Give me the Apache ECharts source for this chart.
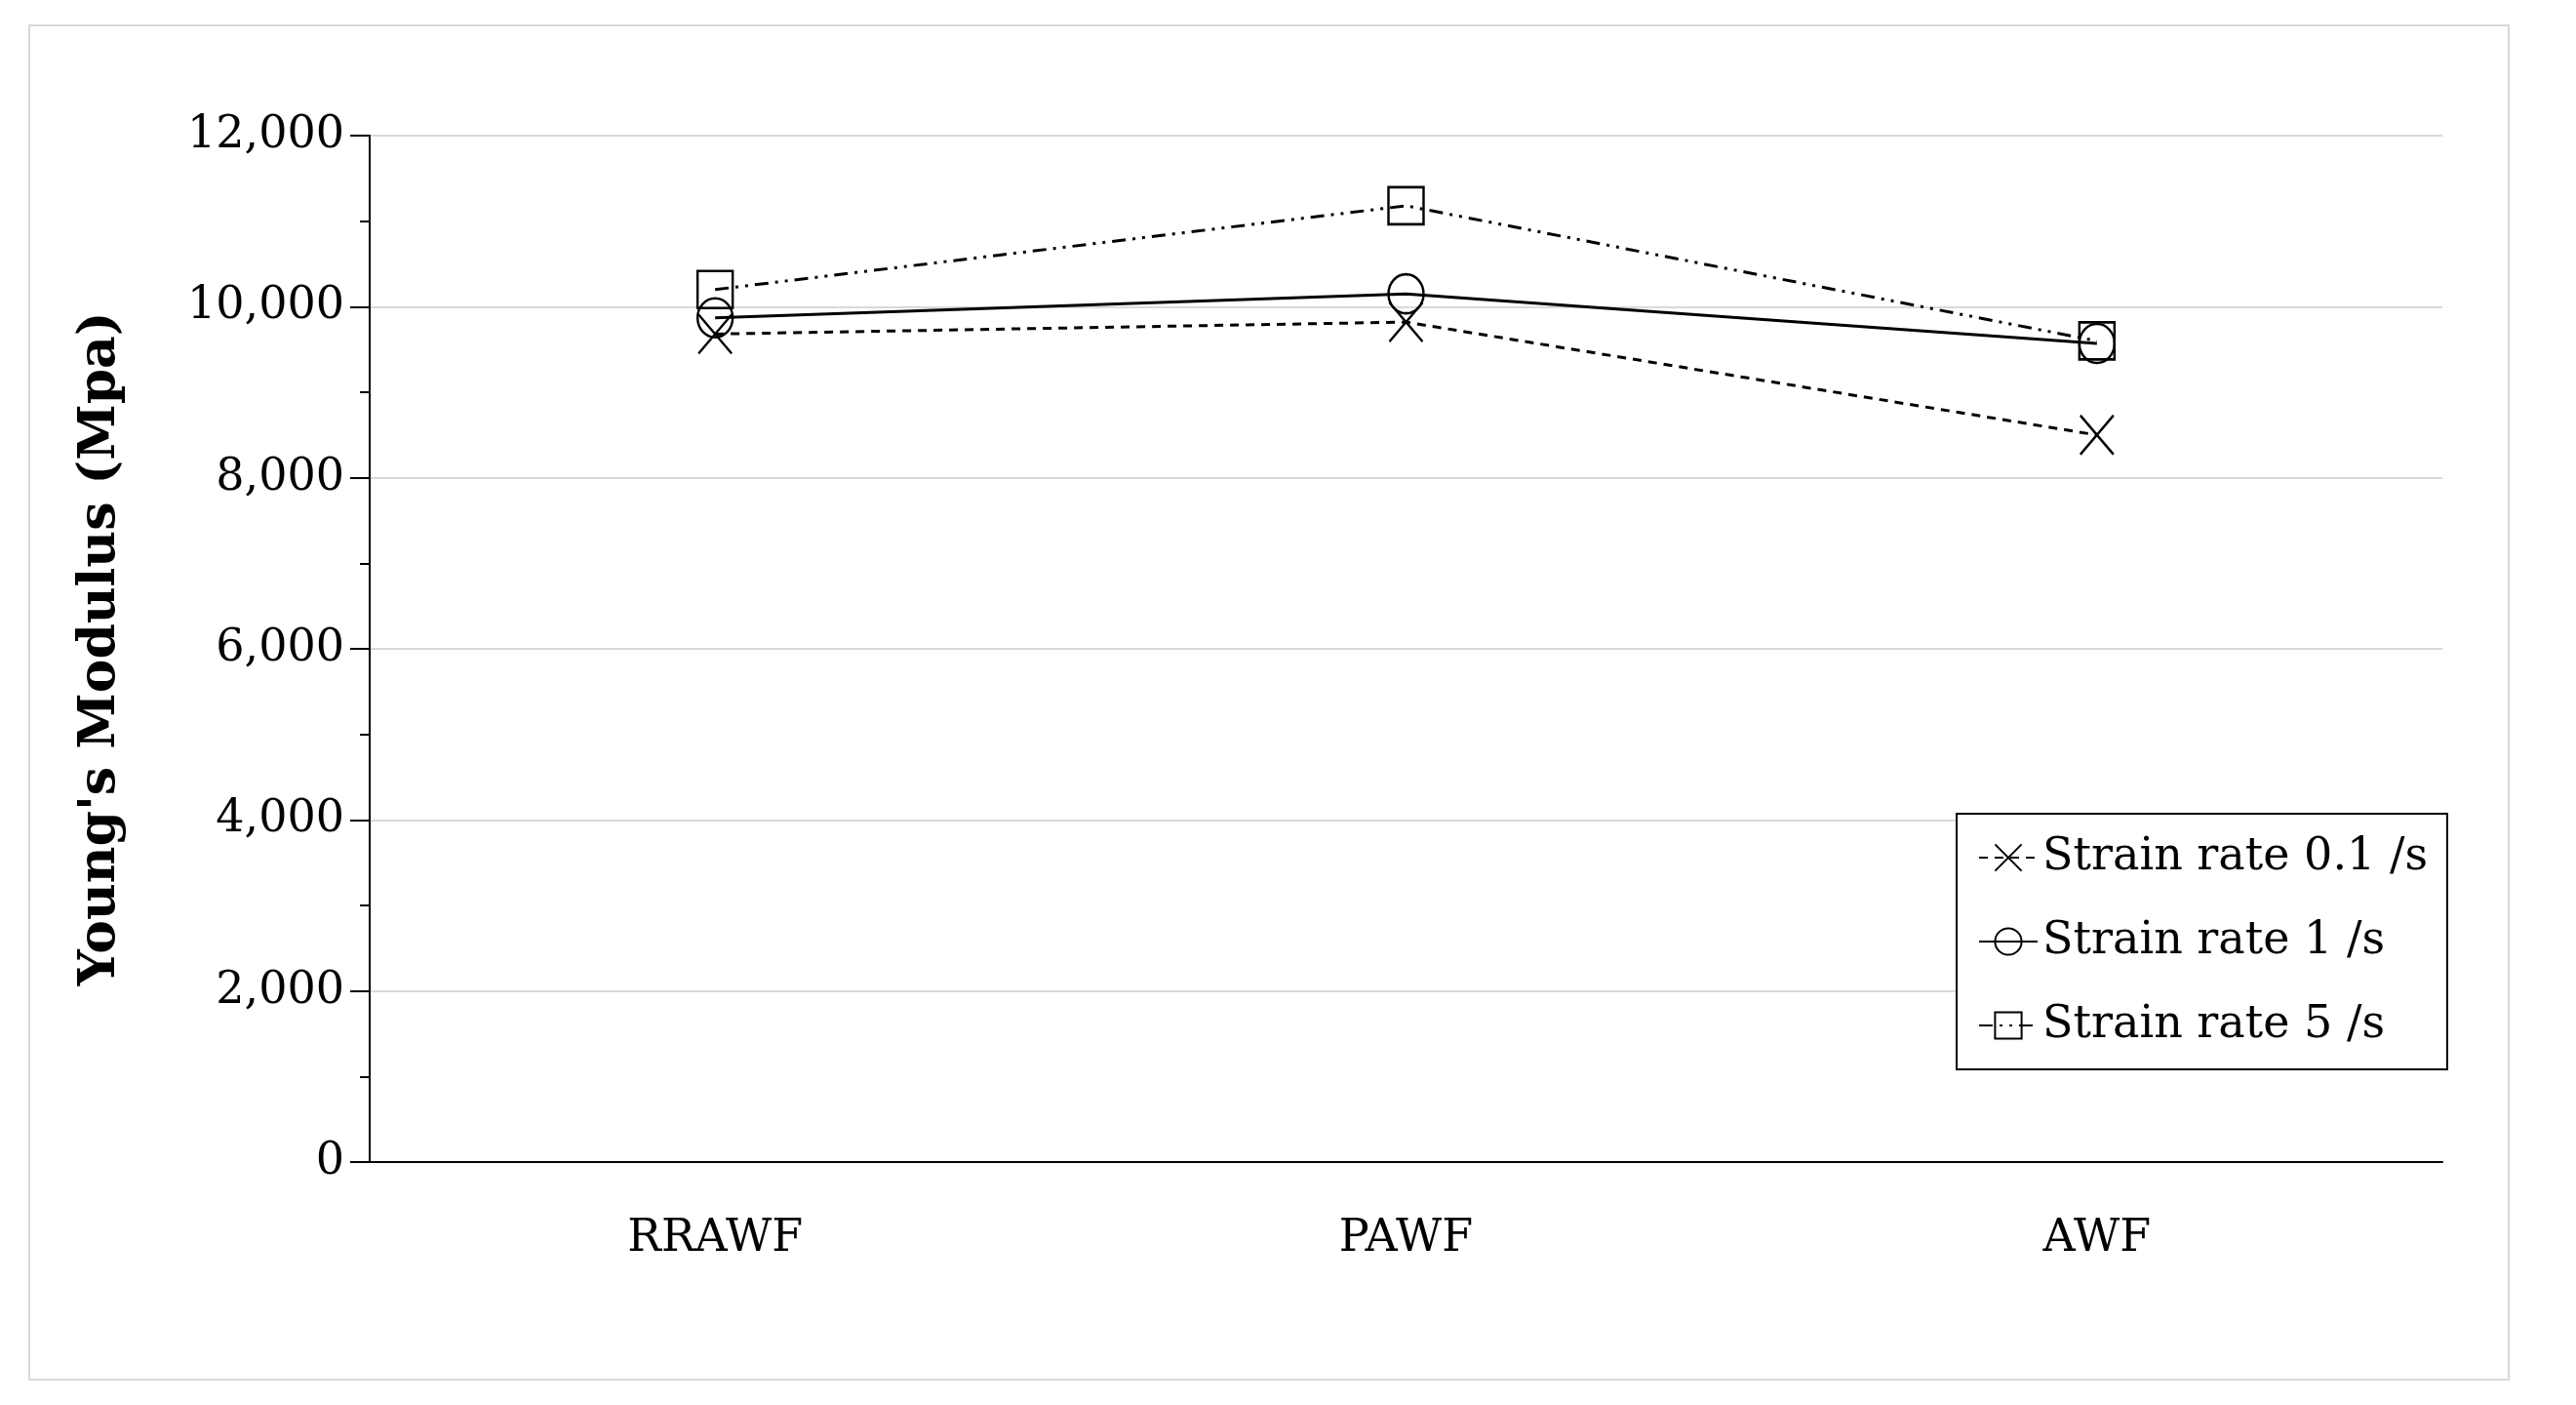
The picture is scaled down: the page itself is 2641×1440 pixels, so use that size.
<!DOCTYPE html>
<html>
<head>
<meta charset="utf-8">
<script src="https://cdn.jsdelivr.net/npm/echarts@6/dist/echarts.min.js"></script>
<style>
    html, body { margin: 0; height: 100%; background: #fff; }
    #frame { position: absolute; left: 29px; top: 25px; width: 2544px; height: 1390px; border: 2px solid #d9d9d9; box-sizing: border-box; }
    #main { position: absolute; left: 0; top: 0; width: 2641px; height: 1440px; }
</style>
</head>
<body>
<div id="frame"></div>
<div id="main"></div>
<script>
    var categories = ['RRAWF', 'PAWF', 'AWF'];
    var rate01 = [9680, 9820, 8500];
    var rate1 = [9870, 10150, 9570];
    var rate5 = [10200, 11180, 9600];

    var font = '"DejaVu Serif", "Liberation Serif", serif';
    var crossPath = 'path://M0,0L10,12M10,0L0,12';

    var chart = echarts.init(document.getElementById('main'));
    chart.setOption({
        backgroundColor: 'transparent',
        animation: false,
        textStyle: { fontFamily: font, color: '#000' },
        grid: { left: 379, right: 137, top: 139, bottom: 249 },
        legend: {
            orient: 'vertical',
            right: 132, top: 834,
            width: 559,
            padding: [22, 20, 22, 22],
            itemGap: 40,
            itemWidth: 60, itemHeight: 34,
            borderColor: '#000', borderWidth: 2,
            backgroundColor: '#fff',
            textStyle: { fontFamily: font, fontSize: 46, color: '#000' },
            data: ['Strain rate 0.1 /s', 'Strain rate 1 /s', 'Strain rate 5 /s']
        },
        xAxis: {
            type: 'category',
            data: categories,
            axisLine: { lineStyle: { color: '#000', width: 2 } },
            axisTick: { alignWithLabel: true, length: 20, lineStyle: { color: '#000', width: 2 } },
            axisLabel: { fontSize: 46, color: '#000', margin: 56, fontFamily: font }
        },
        yAxis: {
            type: 'value',
            min: 0, max: 12000, interval: 2000,
            name: "Young's Modulus (Mpa)",
            nameLocation: 'middle',
            nameGap: 250,
            nameTextStyle: { fontSize: 52, fontWeight: 'bold', color: '#000', fontFamily: font },
            axisLine: { show: true, lineStyle: { color: '#000', width: 2 } },
            axisTick: { show: true, length: 20, lineStyle: { color: '#000', width: 2 } },
            minorTick: { show: true, splitNumber: 2, length: 10, lineStyle: { color: '#000', width: 2 } },
            axisLabel: {
                fontSize: 46, color: '#000', margin: 26, fontFamily: font,
                formatter: function (v) { return v.toLocaleString('en-US'); }
            },
            splitLine: { lineStyle: { color: '#d9d9d9', width: 2 } }
        },
        series: [
            {
                name: 'Strain rate 0.1 /s', type: 'line', data: rate01,
                symbol: crossPath, symbolSize: [34, 40],
                lineStyle: { color: '#000', width: 3, type: [9, 7] },
                itemStyle: { color: 'none', borderColor: '#000', borderWidth: 2.5 },
                z: 3
            },
            {
                name: 'Strain rate 1 /s', type: 'line', data: rate1,
                symbol: 'circle', symbolSize: [36, 40],
                lineStyle: { color: '#000', width: 3, type: 'solid' },
                itemStyle: { color: 'none', borderColor: '#000', borderWidth: 2.5 },
                z: 4
            },
            {
                name: 'Strain rate 5 /s', type: 'line', data: rate5,
                symbol: 'rect', symbolSize: [36, 38],
                lineStyle: { color: '#000', width: 3, type: [14, 7, 3, 7, 3, 7] },
                itemStyle: { color: 'none', borderColor: '#000', borderWidth: 2.5 },
                z: 5
            }
        ]
    });
</script>
</body>
</html>
